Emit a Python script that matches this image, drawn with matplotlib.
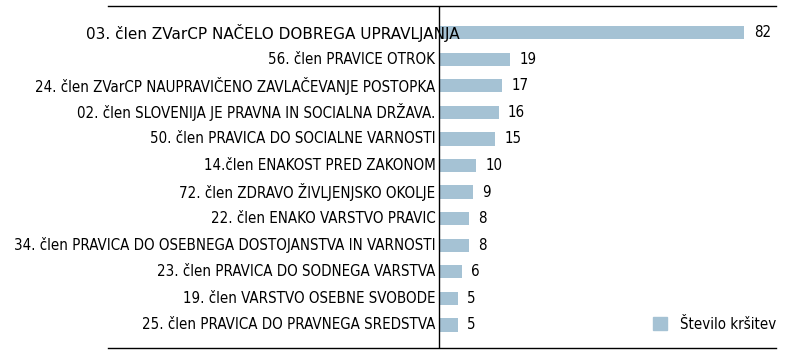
import matplotlib
matplotlib.use("Agg")
import matplotlib.pyplot as plt
from matplotlib.patches import Patch

labels = [
    "03. člen ZVarCP NAČELO DOBREGA UPRAVLJANJA",
    "56. člen PRAVICE OTROK",
    "24. člen ZVarCP NAUPRAVIČENO ZAVLAČEVANJE POSTOPKA",
    "02. člen SLOVENIJA JE PRAVNA IN SOCIALNA DRŽAVA.",
    "50. člen PRAVICA DO SOCIALNE VARNOSTI",
    "14.člen ENAKOST PRED ZAKONOM",
    "72. člen ZDRAVO ŽIVLJENJSKO OKOLJE",
    "22. člen ENAKO VARSTVO PRAVIC",
    "34. člen PRAVICA DO OSEBNEGA DOSTOJANSTVA IN VARNOSTI",
    "23. člen PRAVICA DO SODNEGA VARSTVA",
    "19. člen VARSTVO OSEBNE SVOBODE",
    "25. člen PRAVICA DO PRAVNEGA SREDSTVA",
]
values = [82, 19, 17, 16, 15, 10, 9, 8, 8, 6, 5, 5]
legend_label = "Število kršitev"

BAR = "#a5c2d4"

fig = plt.figure(figsize=(8, 3.57), dpi=100)
ax = fig.add_axes([0.135, 0.025, 0.835, 0.958])

pos = list(range(len(values)))
ax.barh(pos, values, height=0.5, color=BAR)
ax.set_xlim(-89, 90.5)
ax.set_ylim(11.87, -1.0)
ax.axvline(0, color="black", lw=1.0)

for i, (lab, v) in enumerate(zip(labels, values)):
    ax.text(v + 2.5, i, str(v), va="center", ha="left", fontsize=10.8,
            family="DejaVu Sans", fontstretch="condensed")
    if i == 0:
        ax.text(5.5, i, lab, va="center", ha="right", fontsize=11,
                family="DejaVu Sans")
    else:
        ax.text(-1.0, i, lab, va="center", ha="right", fontsize=10.8,
                family="DejaVu Sans", fontstretch="condensed")

ax.set_xticks([])
ax.set_yticks([])
for s in ("left", "right"):
    ax.spines[s].set_visible(False)
for s in ("top", "bottom"):
    ax.spines[s].set_linewidth(1.0)

ax.legend(handles=[Patch(color=BAR, label=legend_label)], loc="lower right",
          frameon=False,
          prop={"family": "DejaVu Sans", "stretch": "condensed", "size": 10.8},
          handlelength=0.9, handleheight=0.9, borderaxespad=0.0,
          handletextpad=0.9, bbox_to_anchor=(1.01, 0.03))

fig.savefig("out.png", dpi=100)
